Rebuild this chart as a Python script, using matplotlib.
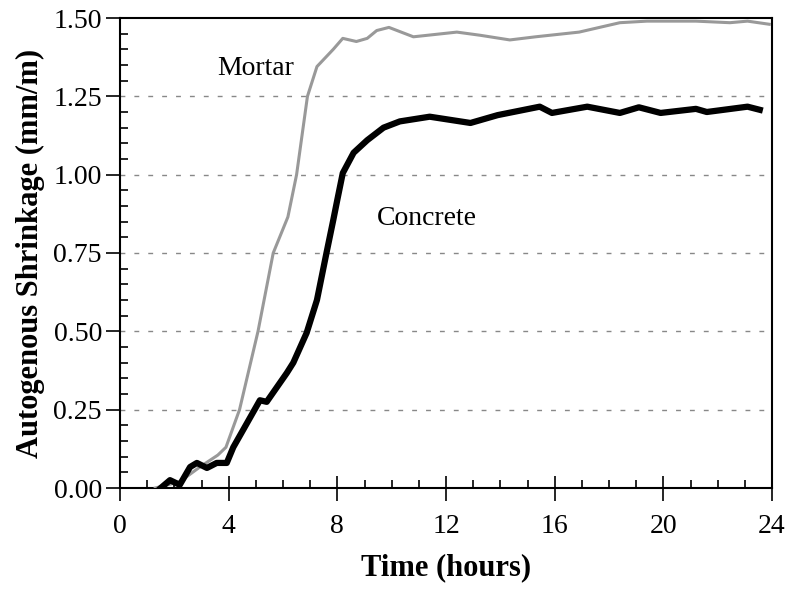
import numpy as np
import matplotlib.pyplot as plt
from matplotlib.ticker import MultipleLocator

# data (time in hours, shrinkage in mm/m)
mortar_t = [1.3, 2.2, 2.94, 3.6, 3.9, 4.4, 5.08, 5.64, 6.18, 6.5, 6.9, 7.25,
            7.85, 8.2, 8.7, 9.1, 9.45, 9.9, 10.8, 12.4, 13.25, 14.35, 15.3,
            16.9, 18.4, 19.4, 21.2, 22.45, 23.1, 23.9]
mortar_v = [0.0, 0.02, 0.067, 0.105, 0.13, 0.25, 0.5, 0.75, 0.865, 1.0, 1.25, 1.345,
            1.40, 1.435, 1.425, 1.435, 1.46, 1.47, 1.44, 1.455, 1.445, 1.43, 1.44,
            1.455, 1.485, 1.49, 1.49, 1.485, 1.49, 1.48]

concrete_t = [1.5, 1.84, 2.2, 2.58, 2.83, 3.2, 3.56, 3.93, 4.17, 4.53, 5.15, 5.4,
              6.14, 6.38, 6.87, 7.25, 7.6, 7.85, 8.0, 8.2, 8.6, 9.1, 9.7, 10.3,
              11.4, 12.9, 13.9, 15.45, 15.9, 17.2, 18.4, 19.1, 19.9, 21.2, 21.6,
              23.1, 23.55]
concrete_v = [0.0, 0.025, 0.01, 0.067, 0.08, 0.064, 0.08, 0.08, 0.13, 0.185, 0.28, 0.275,
              0.367, 0.4, 0.495, 0.6, 0.75, 0.855, 0.92, 1.005, 1.07, 1.11, 1.15, 1.17,
              1.185, 1.165, 1.19, 1.217, 1.197, 1.217, 1.197, 1.215, 1.197, 1.21, 1.2,
              1.217, 1.207]

grid_levels = [0.25, 0.5, 0.75, 1.0, 1.25]

plt.rcParams['font.family'] = ['Liberation Serif', 'DejaVu Serif']

fig = plt.figure(figsize=(8.07, 5.94), dpi=100)
ax = fig.add_axes([120 / 807, 1 - 488 / 594, 652 / 807, 470 / 594])

for g in grid_levels:
    ax.axhline(g, color='#888888', lw=1, ls=(0, (3.5, 6.5)), zorder=1)

ax.plot(mortar_t, mortar_v, color='#999999', lw=2.2, zorder=3)
ax.plot(concrete_t, concrete_v, color='black', lw=4.5, zorder=3)

ax.text(5.0, 1.34, 'Mortar', fontsize=20, ha='center', va='center')
ax.text(11.3, 0.86, 'Concrete', fontsize=20, ha='center', va='center')

ax.set_xlim(0, 24)
ax.set_ylim(0, 1.5)
ax.xaxis.set_major_locator(MultipleLocator(4))
ax.xaxis.set_minor_locator(MultipleLocator(1))
ax.yaxis.set_major_locator(MultipleLocator(0.25))
ax.yaxis.set_minor_locator(MultipleLocator(0.05))
ax.yaxis.set_major_formatter(plt.FormatStrFormatter('%.2f'))

ax.tick_params(axis='x', which='major', direction='inout', length=18, width=1.2,
               labelsize=20, pad=10)
ax.tick_params(axis='x', which='minor', direction='in', length=6, width=1.2)
ax.tick_params(axis='y', which='major', direction='out', length=10, width=1.2,
               labelsize=20, pad=3)
ax.tick_params(axis='y', which='minor', direction='in', length=6, width=1.2)

for s in ax.spines.values():
    s.set_linewidth(1.5)

ax.set_xlabel('Time (hours)', fontsize=22, fontweight='bold', labelpad=10)
ax.set_ylabel('Autogenous Shrinkage (mm/m)', fontsize=22, fontweight='bold', labelpad=6)

fig.savefig('out.png', dpi=100)
